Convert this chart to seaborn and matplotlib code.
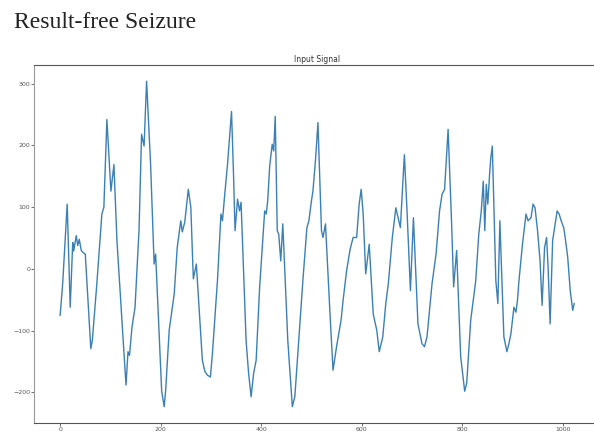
# Input signal plot
#
# python plot.py


import matplotlib.pyplot as plt
import pandas as pd
import seaborn as sns


# sample index / amplitude
sample_idx = [
    0, 5, 14, 20, 25, 27, 32, 35, 38, 42, 45, 50, 61, 64, 73, 83, 87, 93,
    101, 107, 113, 131, 135, 138, 143, 149, 157, 162, 167, 172, 180, 187,
    190, 202, 207, 210, 217, 227, 233, 240, 243, 248, 255, 260, 265, 271,
    283, 288, 293, 299, 303, 313, 320, 323, 327, 333, 337, 341, 345, 348,
    353, 357, 360, 370, 375, 380, 385, 390, 397, 407, 410, 413, 417, 422,
    425, 428, 432, 435, 439, 443, 453, 462, 467, 477, 483, 491, 495, 500,
    503, 508, 513, 520, 523, 528, 537, 543, 550, 559, 563, 570, 577, 583,
    590, 595, 599, 603, 608, 615, 623, 630, 635, 642, 648, 653, 661, 668,
    677, 685, 690, 697, 703, 712, 720, 725, 730, 740, 748, 755, 760, 765,
    772, 779, 783, 789, 797, 805, 809, 817, 827, 833, 838, 842, 845, 848,
    851, 855, 857, 860, 863, 867, 871, 875, 883, 889, 893, 897, 903, 907,
    910, 913, 920, 927, 931, 937, 941, 945, 950, 955, 959, 964, 968, 971,
    975, 980, 985, 989, 993, 997, 1002, 1005, 1010, 1015, 1020, 1023,
]
amplitude = [
    -75, -24, 105, -62, 43, 29, 54, 38, 48, 30, 27, 24, -129, -116, -24, 89,
    100, 242, 126, 169, 46, -188, -134, -140, -94, -62, 64, 218, 199, 304,
    169, 8, 24, -198, -223, -196, -99, -40, 35, 78, 60, 76, 129, 100, -16,
    8, -148, -166, -172, -175, -137, -19, 89, 78, 116, 169, 212, 255, 153,
    62, 113, 94, 108, -116, -169, -207, -169, -148, -29, 94, 89, 110, 167,
    202, 191, 247, 62, 56, 13, 73, -116, -223, -207, -89, -19, 67, 78, 110,
    126, 175, 237, 62, 51, 73, -73, -164, -126, -83, -51, -3, 32, 51, 51,
    105, 129, 89, -8, 40, -73, -99, -134, -110, -56, -24, 51, 99, 67, 185,
    99, -35, 83, -89, -121, -126, -110, -24, 24, 94, 121, 129, 226, 73, -29,
    30, -142, -198, -185, -83, -19, 56, 94, 142, 62, 137, 105, 159, 180, 199,
    105, -19, -56, 78, -110, -134, -121, -105, -62, -70, -51, -19, 40, 89,
    78, 83, 105, 99, 62, 13, -59, 35, 51, 3, -89, 46, 73, 94, 89, 78, 67, 51,
    19, -35, -67, -56,
]
x_ticks = [0, 200, 400, 600, 800, 1000]
y_ticks = [-200, -100, 0, 100, 200, 300]


def signal_plot(idx, values):
    """
    Line plot of the input signal.
    """
    data = pd.DataFrame({"sample": idx, "value": values})

    fig = plt.figure(figsize=(5.94, 4.36), dpi=100)
    fig.text(0.024, 0.935, "Result-free Seizure", family="Liberation Serif",
             fontsize=17, color="#222222")

    ax = fig.add_axes([0.058, 0.030, 0.952, 0.821])
    sns.lineplot(data=data, x="sample", y="value", ax=ax,
                 color="#3b80b4", linewidth=1.0)

    ax.set_title("Input Signal", fontsize=5.5, pad=2, color="#333333")
    ax.set_xlabel("")
    ax.set_ylabel("")
    ax.set_xticks(x_ticks)
    ax.set_yticks(y_ticks)
    ax.tick_params(labelsize=4.5, colors="#555555", length=2, width=0.6, pad=1)
    for side in ["left", "top", "bottom"]:
        ax.spines[side].set_color("#555555")
        ax.spines[side].set_linewidth(0.8)
    ax.spines["left"].set_color("#999999")
    ax.spines["right"].set_visible(False)

    plt.savefig("out.png", dpi=100)


if __name__ == "__main__":
    signal_plot(sample_idx, amplitude)
